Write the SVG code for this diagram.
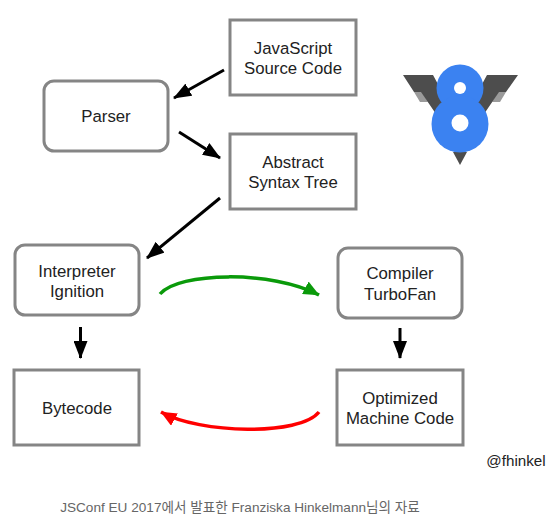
<svg xmlns="http://www.w3.org/2000/svg" width="555" height="520" viewBox="0 0 555 520">
<defs>
<marker id="ak" markerUnits="userSpaceOnUse" markerWidth="18" markerHeight="14" refX="17" refY="7" orient="auto"><path d="M0 0L18 7L0 14z" fill="#000"/></marker>
<marker id="ag" markerUnits="userSpaceOnUse" markerWidth="16" markerHeight="14" refX="15.500" refY="7" orient="auto"><path d="M0 0L16 7L0 14z" fill="#0a9a0a"/></marker>
<marker id="ar" markerUnits="userSpaceOnUse" markerWidth="16" markerHeight="14" refX="15.500" refY="7" orient="auto"><path d="M0 0L16 7L0 14z" fill="#f00"/></marker>
</defs>
<style>
.n{fill:#fff;stroke:#858585;stroke-width:3}
.t{font-family:"Liberation Sans",Arial,sans-serif;font-size:16.800px;fill:#222;text-anchor:middle}
.c{fill:none;stroke:#000;stroke-width:3;marker-end:url(#ak)}
</style>
<rect width="555" height="520" fill="#fff"/>
<g id="connectors">
<path class="c" d="M224 70L174 98"/>
<path class="c" d="M179 132L220 158"/>
<path class="c" d="M220 198L147 258"/>
<path class="c" d="M80.500 327V358"/>
<path class="c" d="M400 328V358"/>
<path d="M160 294C178 272 272 270 319 295" fill="none" stroke="#0a9a0a" stroke-width="3.500" marker-end="url(#ag)"/>
<path d="M319 412C300 436 200 434 161 412" fill="none" stroke="#f00" stroke-width="3.500" marker-end="url(#ar)"/>
</g>
<g id="js"><rect class="n" x="230" y="20" width="126" height="75"/><text class="t" x="293" y="54">JavaScript</text><text class="t" x="293" y="74">Source Code</text></g>
<g id="parser"><rect class="n" x="44" y="81" width="124" height="70" rx="10"/><text class="t" x="106" y="122">Parser</text></g>
<g id="ast"><rect class="n" x="230" y="134" width="126" height="75"/><text class="t" x="293" y="168">Abstract</text><text class="t" x="293" y="188">Syntax Tree</text></g>
<g id="ignition"><rect class="n" x="15" y="245" width="124" height="70" rx="10"/><text class="t" x="77" y="277">Interpreter</text><text class="t" x="77" y="297">Ignition</text></g>
<g id="turbofan"><rect class="n" x="338" y="248" width="124" height="70" rx="10"/><text class="t" x="400" y="279">Compiler</text><text class="t" x="400" y="300">TurboFan</text></g>
<g id="bytecode"><rect class="n" x="14" y="370" width="125" height="75"/><text class="t" x="77" y="414">Bytecode</text></g>
<g id="optimized"><rect class="n" x="337" y="370" width="126" height="75"/><text class="t" x="400" y="404">Optimized</text><text class="t" x="400" y="424">Machine Code</text></g>
<g id="logo">
<path d="M414 92H422L428 102H420z" fill="#9a9a9a"/>
<path d="M506 92H498L492 102H500z" fill="#9a9a9a"/>
<path d="M403 75H433L452 110L436 114L421 92H414z" fill="#4d4d4d"/>
<path d="M518 75H487L468 110L484 114L499 92H506z" fill="#4d4d4d"/>
<path d="M453 152H467L460 165z" fill="#4d4d4d"/>
<circle cx="460" cy="88" r="23.500" fill="#3b82f1"/>
<circle cx="460" cy="124" r="28.500" fill="#3b82f1"/>
<circle cx="460" cy="88" r="6" fill="#fff"/>
<circle cx="460" cy="123" r="8.500" fill="#fff"/>
</g>
<text x="516" y="466" font-family="Liberation Sans,sans-serif" font-size="15.200" fill="#222" text-anchor="middle">@fhinkel</text>
<text x="240" y="512" font-family="'Liberation Sans','Noto Sans CJK KR',sans-serif" font-size="13.600" fill="#666" text-anchor="middle">JSConf EU 2017에서 발표한 Franziska Hinkelmann님의 자료</text>
</svg>
